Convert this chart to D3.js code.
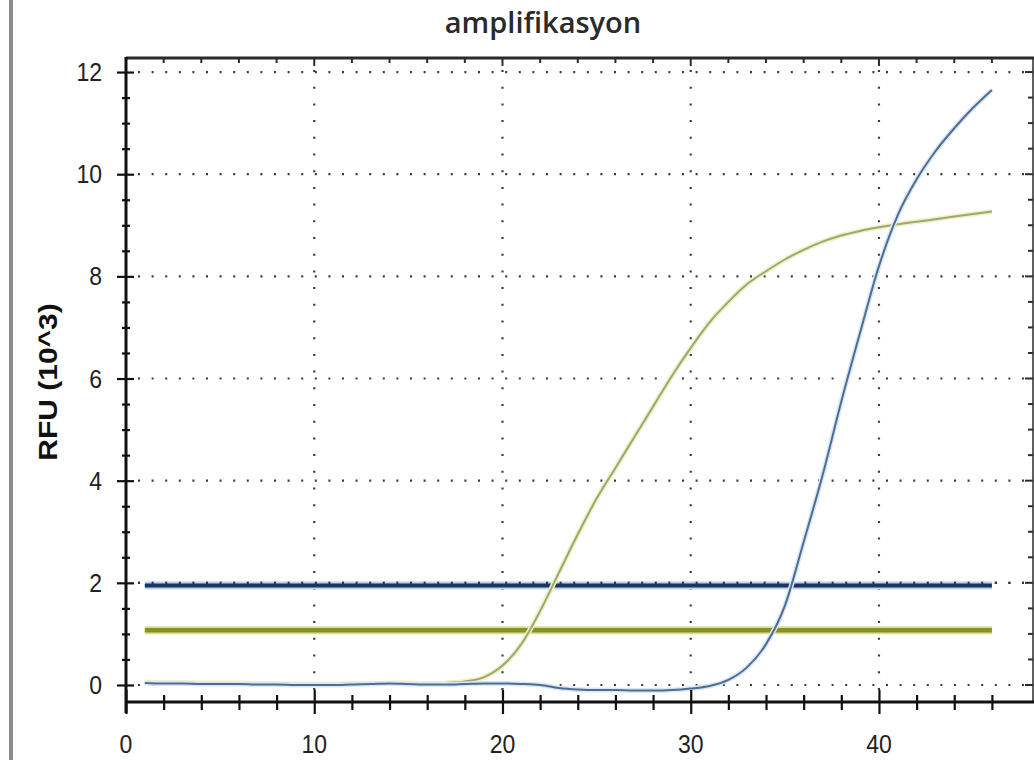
<!DOCTYPE html>
<html>
<head>
<meta charset="utf-8">
<script src="https://cdn.jsdelivr.net/npm/d3@7"></script>
<style>
  body { margin: 0; background: #fff; }
  svg { display: block; }
</style>
</head>
<body>
<svg id="chart" width="1034" height="776"></svg>
<script>
// qPCR amplification data: cycle number vs RFU (x10^3)
const cycles = d3.range(1, 47);
const sampleGreen = [
  0.06, 0.05, 0.05, 0.04, 0.04, 0.04, 0.03, 0.03, 0.02, 0.02,
  0.02, 0.03, 0.03, 0.04, 0.04, 0.03, 0.04, 0.07, 0.15, 0.38,
  0.80, 1.45, 2.20, 2.95, 3.65, 4.25, 4.85, 5.45, 6.05, 6.60,
  7.10, 7.50, 7.85, 8.10, 8.33, 8.52, 8.68, 8.80, 8.89, 8.96,
  9.02, 9.07, 9.12, 9.17, 9.22, 9.27
];
const sampleBlue = [
  0.04, 0.03, 0.03, 0.02, 0.02, 0.02, 0.01, 0.01, 0.00, 0.00,
  0.00, 0.01, 0.02, 0.03, 0.02, 0.01, 0.01, 0.02, 0.03, 0.03,
  0.02, 0.00, -0.06, -0.09, -0.10, -0.10, -0.11, -0.11, -0.10, -0.07,
  -0.02, 0.10, 0.35, 0.80, 1.55, 2.80, 4.10, 5.55, 6.90, 8.20,
  9.20, 9.90, 10.45, 10.90, 11.30, 11.65
];
const thresholdBlue = 1.95;
const thresholdGreen = 1.07;
const thresholdRange = [1, 46];
const xMajorTicks = [0, 10, 20, 30, 40];
const xMinorTicks = d3.range(0, 48, 2);
const yMajorTicks = [0, 2, 4, 6, 8, 10, 12];
const yMinorTicks = d3.range(0, 12.01, 0.5);
const titleText = "amplifikasyon";
const yLabelText = "RFU (10^3)";

const svg = d3.select("#chart");
const W = 1034, H = 776;
const plotL = 126, plotR = 1032, plotT = 58, plotB = 702;

const x = d3.scaleLinear().domain([0, 48.13]).range([plotL, plotR]);
const y = d3.scaleLinear().domain([-0.333, 12.275]).range([plotB, plotT]);

// page-side divider bar
svg.append("rect").attr("x", 9).attr("y", 0).attr("width", 4).attr("height", 760)
  .attr("fill", "#8d8d8d");

// dotted grid
const grid = svg.append("g").attr("stroke", "#3a3a3a").attr("stroke-width", 2.2)
  .attr("fill", "none");
grid.selectAll("line.h").data(yMajorTicks).join("line")
  .attr("x1", plotL + 2).attr("x2", plotR)
  .attr("y1", d => y(d)).attr("y2", d => y(d))
  .attr("stroke-dasharray", "2,11.6")
  .attr("stroke-dashoffset", -10);
grid.selectAll("line.v").data(xMajorTicks.filter(d => d > 0)).join("line")
  .attr("x1", d => x(d)).attr("x2", d => x(d))
  .attr("y1", plotT).attr("y2", plotB)
  .attr("stroke-dasharray", "2,14.7")
  .attr("stroke-dashoffset", -12);

// threshold lines
const thr = svg.append("g");
thr.append("line")
  .attr("x1", x(thresholdRange[0])).attr("x2", x(thresholdRange[1]))
  .attr("y1", y(thresholdGreen)).attr("y2", y(thresholdGreen))
  .attr("stroke", "#d9dd9a").attr("stroke-width", 8);
thr.append("line")
  .attr("x1", x(thresholdRange[0])).attr("x2", x(thresholdRange[1]))
  .attr("y1", y(thresholdGreen)).attr("y2", y(thresholdGreen))
  .attr("stroke", "#87921f").attr("stroke-width", 4.5);
thr.append("line")
  .attr("x1", x(thresholdRange[0])).attr("x2", x(thresholdRange[1]))
  .attr("y1", y(thresholdBlue)).attr("y2", y(thresholdBlue))
  .attr("stroke", "#bcd3ea").attr("stroke-width", 8);
thr.append("line")
  .attr("x1", x(thresholdRange[0])).attr("x2", x(thresholdRange[1]))
  .attr("y1", y(thresholdBlue)).attr("y2", y(thresholdBlue))
  .attr("stroke", "#1d3463").attr("stroke-width", 4);

// grid dots at 2 drawn again so they sit on top of the threshold band
svg.append("line")
  .attr("x1", plotL + 2).attr("x2", plotR)
  .attr("y1", y(2)).attr("y2", y(2))
  .attr("stroke", "#1d3463").attr("stroke-width", 2.4)
  .attr("stroke-dasharray", "2,11.6").attr("stroke-dashoffset", -10);

// amplification curves
const line = d3.line()
  .x((d, i) => x(cycles[i]))
  .y(d => y(d))
  .curve(d3.curveMonotoneX);

svg.append("path").datum(sampleGreen)
  .attr("d", line).attr("fill", "none")
  .attr("stroke", "#eef0c8").attr("stroke-width", 5);
svg.append("path").datum(sampleGreen)
  .attr("d", line).attr("fill", "none")
  .attr("stroke", "#a0a76c").attr("stroke-width", 2);

svg.append("path").datum(sampleBlue)
  .attr("d", line).attr("fill", "none")
  .attr("stroke", "#dbe8f4").attr("stroke-width", 5);
svg.append("path").datum(sampleBlue)
  .attr("d", line).attr("fill", "none")
  .attr("stroke", "#4d6d92").attr("stroke-width", 2);

// frame: top and right borders with inner ticks
const frame = svg.append("g").attr("stroke", "#2b2b2b");
frame.append("line").attr("x1", plotL).attr("x2", W).attr("y1", plotT).attr("y2", plotT)
  .attr("stroke-width", 3);
frame.append("line").attr("x1", plotR + 1).attr("x2", plotR + 1).attr("y1", plotT).attr("y2", plotB)
  .attr("stroke-width", 1.5);
frame.selectAll("line.tt").data(xMinorTicks.filter(d => d > 0)).join("line")
  .attr("x1", d => x(d)).attr("x2", d => x(d))
  .attr("y1", plotT).attr("y2", d => plotT + (d % 10 === 0 ? 8 : 5))
  .attr("stroke-width", 2);
frame.selectAll("line.rt").data(yMinorTicks).join("line")
  .attr("x1", plotR + 1).attr("x2", d => plotR + 1 - (d % 2 === 0 ? 8 : 5))
  .attr("y1", d => y(d)).attr("y2", d => y(d))
  .attr("stroke-width", 2);

// left axis (ticks cross the spine)
const yAxis = svg.append("g").attr("transform", `translate(${plotL},0)`)
  .call(d3.axisLeft(y).tickValues(yMinorTicks).tickFormat(""));
yAxis.select(".domain").remove();
yAxis.selectAll(".tick line")
  .attr("x1", d => (d % 2 === 0 ? -9 : -4))
  .attr("x2", d => (d % 2 === 0 ? 8 : 4))
  .attr("stroke", "#111").attr("stroke-width", 2.2);
svg.append("line").attr("x1", plotL).attr("x2", plotL).attr("y1", plotT - 1).attr("y2", plotB + 11)
  .attr("stroke", "#111").attr("stroke-width", 3);

// bottom axis (ticks cross the spine)
const xAxis = svg.append("g").attr("transform", `translate(0,${plotB})`)
  .call(d3.axisBottom(x).tickValues(xMinorTicks).tickFormat(""));
xAxis.select(".domain").remove();
xAxis.selectAll(".tick line")
  .attr("y1", d => (d % 10 === 0 ? -12 : -7))
  .attr("y2", d => (d % 10 === 0 ? 12 : 8))
  .attr("stroke", "#111").attr("stroke-width", 2.2);
svg.append("line").attr("x1", plotL).attr("x2", W).attr("y1", plotB).attr("y2", plotB)
  .attr("stroke", "#111").attr("stroke-width", 3);

// tick labels
const labelFont = "'Liberation Sans', Arial, sans-serif";
svg.append("g").selectAll("text").data(yMajorTicks).join("text")
  .attr("transform", d => `translate(102,${y(d)}) scale(1,1.15)`)
  .attr("text-anchor", "end").attr("dominant-baseline", "central")
  .attr("font-family", labelFont).attr("font-size", 23).attr("fill", "#222")
  .text(d => d);
svg.append("g").selectAll("text").data(xMajorTicks).join("text")
  .attr("transform", d => `translate(${x(d)},744) scale(1,1.15)`)
  .attr("text-anchor", "middle").attr("dominant-baseline", "central")
  .attr("font-family", labelFont).attr("font-size", 23).attr("fill", "#222")
  .text(d => d);

// axis title
svg.append("text")
  .attr("transform", "translate(48,382) rotate(-90) scale(1.2,1)")
  .attr("text-anchor", "middle").attr("dominant-baseline", "central")
  .attr("font-family", labelFont).attr("font-weight", "bold")
  .attr("font-size", 25).attr("fill", "#111")
  .text(yLabelText);

// chart title
svg.append("text")
  .attr("x", 543).attr("y", 33)
  .attr("text-anchor", "middle")
  .attr("font-family", "'Open Sans', sans-serif").attr("font-weight", 600)
  .attr("font-size", 29).attr("fill", "#2a2a2a")
  .text(titleText);
</script>
</body>
</html>
